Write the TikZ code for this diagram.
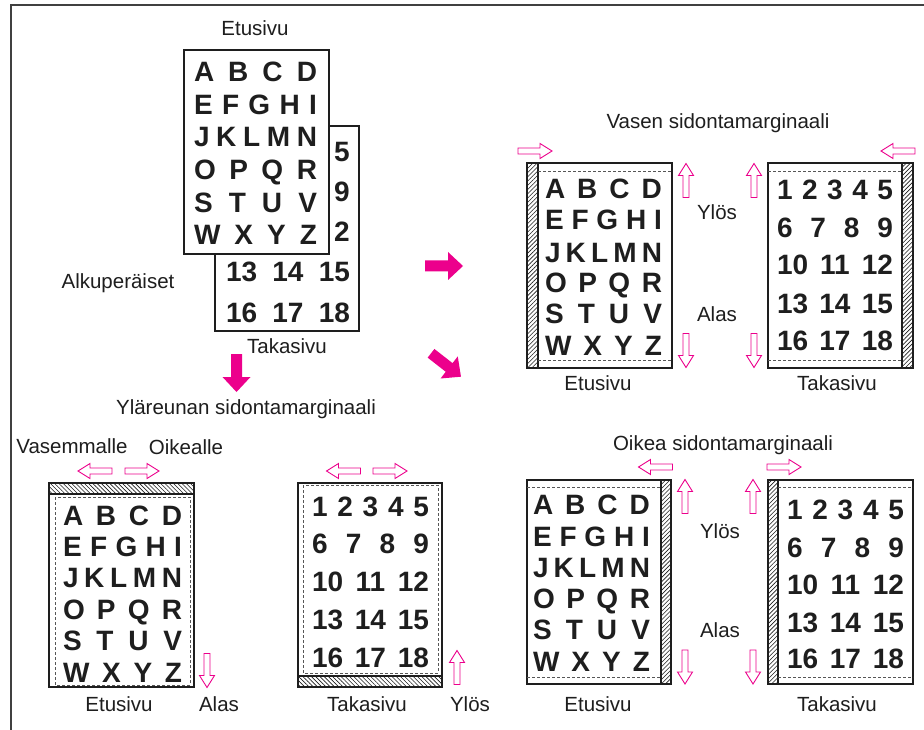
\documentclass[tikz,border=0pt]{standalone}
\usepackage{fontspec}
\setmainfont{Liberation Sans}
\usetikzlibrary{patterns.meta}
\definecolor{mag}{RGB}{236,0,140}
\definecolor{ink}{RGB}{30,30,30}
\newcommand\jrow[2]{\makebox[#1pt][s]{#2}}
\newcommand\Ltr[1]{\ifcase#1\or A\hfill B\hfill C\hfill D\or E\hfill F\hfill G\hfill H\hfill I\or J\hfill K\hfill L\hfill M\hfill N\or O\hfill P\hfill Q\hfill R\or S\hfill T\hfill U\hfill V\or W\hfill X\hfill Y\hfill Z\fi}
\newcommand\Num[1]{\ifcase#1\or 1\hfill 2\hfill 3\hfill 4\hfill 5\or 6\hfill 7\hfill 8\hfill 9\or 10\hfill 11\hfill 12\or 13\hfill 14\hfill 15\or 16\hfill 17\hfill 18\fi}
\newcommand\letblock[4]{\foreach \b [count=\i] in {#4}{\node[big] (#1\i) at (#2,\b) {\jrow{#3}{\Ltr{\i}}};}}
\newcommand\numblock[4]{\foreach \b [count=\i] in {#4}{\node[big] (#1\i) at (#2,\b) {\jrow{#3}{\Num{\i}}};}}
\begin{document}
\begin{tikzpicture}[x=1pt,y=-1pt,
 lbl/.style={font=\fontsize{20.5}{24}\selectfont, anchor=base, inner sep=0, text=ink},
 big/.style={font=\fontsize{28}{30}\selectfont\bfseries, anchor=base, inner sep=0, text=ink},
 page/.style={draw=ink, line width=1.1pt, fill=white},
 marg/.style={draw=ink!75, line width=0.6pt, dash pattern=on 3pt off 2pt},
 hatchv/.style={draw=ink, line width=1.1pt, pattern={Lines[angle=45,distance=3pt,line width=0.6pt]}, pattern color=ink},
 hatchh/.style={draw=ink, line width=1.1pt, pattern={Lines[angle=-45,distance=3pt,line width=0.6pt]}, pattern color=ink},
 harrow/.pic={\draw[mag, line width=0.9pt, fill=white] (-17,-3) -- (5,-3) -- (5,-7.5) -- (17,0) -- (5,7.5) -- (5,3) -- (-17,3) -- cycle;},
 sarrow/.pic={\fill[mag] (-19,-5.5) -- (4,-5.5) -- (4,-14) -- (19,0) -- (4,14) -- (4,5.5) -- (-19,5.5) -- cycle;}
]
\useasboundingbox (0,0) rectangle (924,730);
\fill[white] (0,0) rectangle (924,730);
% frame
\draw[ink!85, line width=1.6pt] (11,730) -- (11,5) -- (924,5);

% ---------------- originals (top-left)
\draw[page] (215,126) rectangle (359,331);
\node[big, anchor=base east] (ob1) at (350,162) {5};
\node[big, anchor=base east] (ob2) at (350,202) {9};
\node[big, anchor=base east] (ob3) at (350,242) {2};
\node[big] (ob4) at (288,282) {\jrow{124}{13\hfill 14\hfill 15}};
\node[big] (ob5) at (288,322) {\jrow{124}{16\hfill 17\hfill 18}};
\draw[page] (184,50) rectangle (329,254);
\letblock{of}{255.5}{123}{82,114.5,147,180,212.5,245}
\node[lbl] (oEt) at (255,36) {Etusivu};
\node[lbl] (oTa) at (287,353) {Takasivu};
\node[lbl] (oAl) at (118,288) {Alkuperäiset};

% solid arrows
\pic at (444,266) {sarrow};
\pic[rotate=-38] at (446,365) {sarrow};
\pic[rotate=-90] at (236.5,373) {sarrow};

% ---------------- left binding (top-right)
\node[lbl] (vTitle) at (718,129) {Vasen sidontamarginaali};
\draw[page] (527,163) rectangle (672,368);
\draw[hatchv] (527,163) rectangle (538,368);
\draw[marg] (538,171) -- (672,171);
\draw[marg] (538,360) -- (672,360);
\letblock{vf}{603.5}{117}{199,230,262,293,323.5,355}
\draw[page] (768,163) rectangle (913,368);
\draw[hatchv] (902,163) rectangle (913,368);
\draw[marg] (768,171) -- (902,171);
\draw[marg] (768,360) -- (902,360);
\numblock{vb}{835}{116}{200,238,275,313,350}
\pic at (535,151) {harrow};
\pic[rotate=180] at (898,151) {harrow};
\pic[rotate=90] at (686,180.5) {harrow};
\pic[rotate=90] at (754,180.5) {harrow};
\pic[rotate=-90] at (686,350.5) {harrow};
\pic[rotate=-90] at (754,350.5) {harrow};
\node[lbl] (vUp) at (717,220) {Ylös};
\node[lbl] (vDn) at (717,321) {Alas};
\node[lbl] (vEt) at (598,390) {Etusivu};
\node[lbl] (vTa) at (837,390) {Takasivu};

% ---------------- top binding (bottom-left)
\node[lbl] (yTitle) at (246,414) {Yläreunan sidontamarginaali};
\node[lbl] (yVas) at (72,453) {Vasemmalle};
\node[lbl] (yOik) at (186,454) {Oikealle};
\draw[page] (49,483) rectangle (194,687);
\draw[hatchh] (49,483) rectangle (194,494);
\draw[marg] (55,497) rectangle (190,685);
\letblock{yf}{122.5}{119}{525,556,587,619,650,682}
\draw[page] (298,483) rectangle (442,687);
\draw[hatchh] (298,676) rectangle (442,687);
\draw[marg] (303,485) rectangle (438,673);
\numblock{yb}{370.5}{117}{516,553,591,629,667}
\pic[rotate=180] at (95,471) {harrow};
\pic at (142,471) {harrow};
\pic[rotate=180] at (343.5,471) {harrow};
\pic at (390,471) {harrow};
\pic[rotate=-90] at (207,670.5) {harrow};
\pic[rotate=90] at (457,667.5) {harrow};
\node[lbl] (yEt) at (119,711) {Etusivu};
\node[lbl] (yDn) at (219,711) {Alas};
\node[lbl] (yTa) at (367,711) {Takasivu};
\node[lbl] (yUp) at (470,711) {Ylös};

% ---------------- right binding (bottom-right)
\node[lbl] (rTitle) at (723,450) {Oikea sidontamarginaali};
\draw[page] (527,480) rectangle (671,684);
\draw[hatchv] (661,480) rectangle (671,684);
\draw[marg] (527,487) -- (661,487);
\draw[marg] (527,677) -- (661,677);
\letblock{rf}{591.5}{117}{514,546,577,608,639,671}
\draw[page] (768,480) rectangle (913,684);
\draw[hatchv] (768,480) rectangle (778,684);
\draw[marg] (778,487) -- (913,487);
\draw[marg] (778,677) -- (913,677);
\numblock{rb}{845.5}{117}{519,557,594,632,668}
\pic[rotate=180] at (655.5,467) {harrow};
\pic at (784,467) {harrow};
\pic[rotate=90] at (685,496.5) {harrow};
\pic[rotate=90] at (753,496.5) {harrow};
\pic[rotate=-90] at (685,667) {harrow};
\pic[rotate=-90] at (753,667) {harrow};
\node[lbl] (rUp) at (720,538) {Ylös};
\node[lbl] (rDn) at (720,637) {Alas};
\node[lbl] (rEt) at (598,711) {Etusivu};
\node[lbl] (rTa) at (837,711) {Takasivu};
\end{tikzpicture}
\end{document}
